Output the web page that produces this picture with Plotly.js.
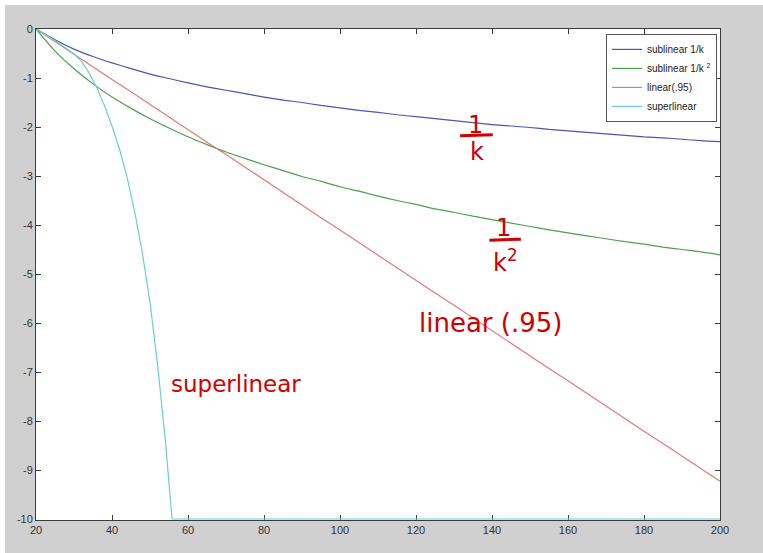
<!DOCTYPE html>
<html>
<head>
<meta charset="utf-8">
<script src="https://cdn.plot.ly/plotly-3.0.1.min.js"></script>
<style>
  html, body { margin: 0; padding: 0; background: #ffffff; }
  #chart { position: absolute; left: 5px; top: 5px; width: 758px; height: 548px; }
</style>
</head>
<body>
<div id="chart"></div>
<script>
// x positions for the three smooth curves
const kValues = [20,25,30,35,40,45,50,55,60,65,70,75,80,85,90,95,100,105,110,115,120,125,130,135,140,145,150,155,160,165,170,175,180,185,190,195,200];

const sublinear1 = [0,-0.22,-0.41,-0.56,-0.69,-0.81,-0.92,-1.01,-1.10,-1.18,-1.25,-1.32,-1.39,-1.45,-1.50,-1.56,-1.61,-1.66,-1.70,-1.75,-1.79,-1.83,-1.87,-1.91,-1.95,-1.98,-2.01,-2.05,-2.08,-2.11,-2.14,-2.17,-2.20,-2.22,-2.25,-2.28,-2.30];

const sublinear2 = [0,-0.45,-0.81,-1.12,-1.39,-1.62,-1.83,-2.02,-2.20,-2.36,-2.51,-2.64,-2.77,-2.89,-3.01,-3.11,-3.22,-3.31,-3.41,-3.50,-3.58,-3.67,-3.74,-3.82,-3.89,-3.96,-4.03,-4.10,-4.16,-4.22,-4.28,-4.34,-4.39,-4.45,-4.50,-4.55,-4.61];

const linear95 = [0,-0.26,-0.51,-0.77,-1.03,-1.28,-1.54,-1.80,-2.05,-2.31,-2.56,-2.82,-3.08,-3.33,-3.59,-3.85,-4.10,-4.36,-4.62,-4.87,-5.13,-5.39,-5.64,-5.90,-6.16,-6.41,-6.67,-6.93,-7.18,-7.44,-7.69,-7.95,-8.21,-8.46,-8.72,-8.98,-9.23];

const superX = [20,22,24,26,28,30,32,34,36,38,40,42,44,46,48,50,52,54,55.8,200];
const superlinear = [0,-0.09,-0.19,-0.29,-0.40,-0.51,-0.66,-0.90,-1.20,-1.56,-1.98,-2.46,-3.04,-3.74,-4.58,-5.58,-6.86,-8.36,-10,-10];

const seriesNames = ['sublinear 1/k', 'sublinear 1/k <sup>2</sup>', 'linear(.95)', 'superlinear'];
const seriesColors = ['#4a56b0', '#4f9f4f', '#e07a7a', '#6ccfcf'];

const xTicks = [20,40,60,80,100,120,140,160,180,200];
const yTicks = [0,-1,-2,-3,-4,-5,-6,-7,-8,-9,-10];

const noteColor = '#cf0000';
const noteFont = { family: 'DejaVu Sans', size: 24, color: noteColor };

const traces = [
  { x: kValues, y: sublinear1, name: seriesNames[0], shape: 'spline' },
  { x: kValues, y: sublinear2, name: seriesNames[1], shape: 'spline' },
  { x: kValues, y: linear95, name: seriesNames[2], shape: 'linear' },
  { x: superX, y: superlinear, name: seriesNames[3], shape: 'linear' }
].map((t, i) => ({
  type: 'scatter', mode: 'lines', x: t.x, y: t.y, name: t.name,
  line: { color: seriesColors[i], width: 1.2, shape: t.shape, smoothing: 0.6 }
}));

const axisCommon = {
  showgrid: false, zeroline: false, showline: true, linecolor: '#3a3a3a', linewidth: 1,
  mirror: 'ticks', ticks: 'inside', ticklen: 5, tickcolor: '#3a3a3a', layer: 'below traces',
  tickfont: { family: 'Liberation Sans, Arial, sans-serif', size: 11, color: '#333333' }
};

const layout = {
  width: 758, height: 548,
  paper_bgcolor: '#d0d0d0', plot_bgcolor: '#ffffff',
  margin: { l: 31, r: 43, t: 24, b: 33 },
  showlegend: true,
  legend: {
    x: 0.9956, xanchor: 'right', y: 0.99, yanchor: 'top',
    bgcolor: '#ffffff', bordercolor: '#555555', borderwidth: 1,
    font: { family: 'Liberation Sans, Arial, sans-serif', size: 10, color: '#222222' },
    tracegroupgap: 0, itemwidth: 30
  },
  xaxis: Object.assign({}, axisCommon, { range: [20, 200], tickvals: xTicks, ticktext: xTicks.map(String) }),
  yaxis: Object.assign({}, axisCommon, { range: [-10.02, 0], tickvals: yTicks, ticktext: yTicks.map(String) }),
  shapes: [
    { type: 'line', xref: 'x', yref: 'y', x0: 131.6, x1: 140.2, y0: -2.18, y1: -2.16, line: { color: noteColor, width: 3 } },
    { type: 'line', xref: 'x', yref: 'y', x0: 139.3, x1: 147.6, y0: -4.31, y1: -4.29, line: { color: noteColor, width: 3 } }
  ],
  annotations: [
    { x: 135.6, y: -1.96, xref: 'x', yref: 'y', text: '1', showarrow: false, font: noteFont },
    { x: 136.0, y: -2.52, xref: 'x', yref: 'y', text: 'k', showarrow: false, font: noteFont },
    { x: 143.0, y: -4.07, xref: 'x', yref: 'y', text: '1', showarrow: false, font: noteFont },
    { x: 143.6, y: -4.74, xref: 'x', yref: 'y', text: 'k<sup>2</sup>', showarrow: false, font: noteFont },
    { x: 139.5, y: -6.0, xref: 'x', yref: 'y', text: 'linear (.95)', showarrow: false, font: Object.assign({}, noteFont, { size: 26 }) },
    { x: 72.5, y: -7.25, xref: 'x', yref: 'y', text: 'superlinear', showarrow: false, font: Object.assign({}, noteFont, { size: 23 }) }
  ]
};

Plotly.newPlot('chart', traces, layout, { displayModeBar: false, staticPlot: true });
</script>
</body>
</html>
